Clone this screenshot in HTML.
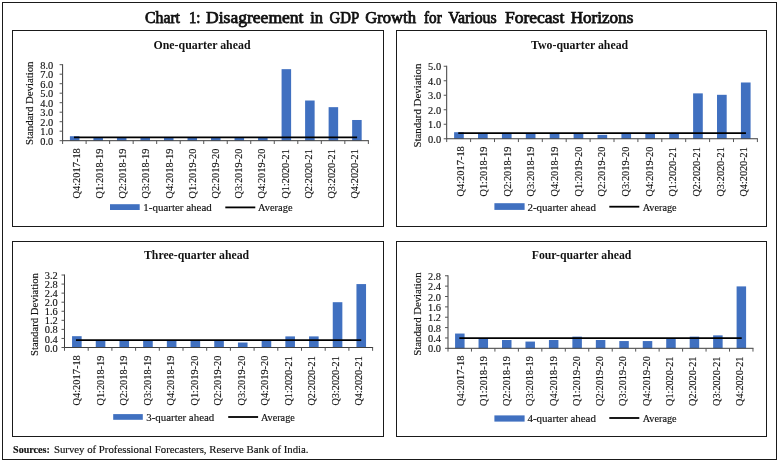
<!DOCTYPE html>
<html lang="en">
<head>
<meta charset="utf-8">
<title>Chart 1: Disagreement in GDP Growth for Various Forecast Horizons</title>
<style>
html,body{margin:0;padding:0;background:#fff;}
svg{display:block;font-family:'Liberation Serif', 'DejaVu Serif', serif;}
.b{fill:none;stroke:#1a1a1a;stroke-width:1;shape-rendering:crispEdges;}
.ax{stroke:#3c3c3c;stroke-width:1;fill:none;}
.tk{stroke:#555;stroke-width:1;fill:none;}
.bar{fill:#4070c0;}
.avg{stroke:#000;stroke-width:1.8;fill:none;}
.t{fill:#111;}
.tl,.xl,.yt,.lg,.src{stroke:#111;stroke-width:0.15px;}
.tl{font-size:11px;text-anchor:end;}
.xl{font-size:11.2px;}
.yt{font-size:10.8px;}
.lg{font-size:11px;}
.sub{font-size:12px;font-weight:bold;}
.ttl{font-size:16px;stroke:#111;stroke-width:0.75px;}
.src{font-size:10px;}
</style>
</head>
<body>
<svg width="779" height="462" viewBox="0 0 779 462">
<rect x="0" y="0" width="779" height="462" fill="#fff"/>
<rect class="b" x="2.5" y="2.5" width="774" height="457"/>
<text class="t ttl" y="23.3"><tspan x="145" textLength="35" lengthAdjust="spacingAndGlyphs">Chart</tspan> <tspan x="188.9" textLength="11.5" lengthAdjust="spacingAndGlyphs">1:</tspan> <tspan x="206" textLength="97.5" lengthAdjust="spacingAndGlyphs">Disagreement</tspan> <tspan x="310.2" textLength="12.7" lengthAdjust="spacingAndGlyphs">in</tspan> <tspan x="329.5" textLength="29.1" lengthAdjust="spacingAndGlyphs">GDP</tspan> <tspan x="365.3" textLength="50.7" lengthAdjust="spacingAndGlyphs">Growth</tspan> <tspan x="424" textLength="17.7" lengthAdjust="spacingAndGlyphs">for</tspan> <tspan x="448.3" textLength="48.4" lengthAdjust="spacingAndGlyphs">Various</tspan> <tspan x="505" textLength="59.3" lengthAdjust="spacingAndGlyphs">Forecast</tspan> <tspan x="570.7" textLength="62.6" lengthAdjust="spacingAndGlyphs">Horizons</tspan></text>
<g>
<rect class="b" x="12.5" y="30.5" width="371" height="196"/>
<text class="t sub" x="153.5" y="48.6" textLength="97" lengthAdjust="spacingAndGlyphs">One-quarter ahead</text>
<rect class="bar" x="69.9" y="136.23" width="9.53" height="4.46"/>
<rect class="bar" x="93.42" y="137.28" width="9.53" height="3.42"/>
<rect class="bar" x="116.94" y="137.38" width="9.53" height="3.32"/>
<rect class="bar" x="140.46" y="137.56" width="9.53" height="3.14"/>
<rect class="bar" x="163.98" y="137.38" width="9.53" height="3.32"/>
<rect class="bar" x="187.5" y="137.56" width="9.53" height="3.14"/>
<rect class="bar" x="211.02" y="137.28" width="9.53" height="3.42"/>
<rect class="bar" x="234.54" y="137.56" width="9.53" height="3.14"/>
<rect class="bar" x="258.06" y="137.56" width="9.53" height="3.14"/>
<rect class="bar" x="281.58" y="69.16" width="9.53" height="71.53"/>
<rect class="bar" x="305.1" y="100.51" width="9.53" height="40.19"/>
<rect class="bar" x="328.62" y="107.16" width="9.53" height="33.53"/>
<rect class="bar" x="352.14" y="119.99" width="9.53" height="20.71"/>
<path class="ax" d="M62.6 64.2V141.2M62.6 140.7H368.86"/>
<path class="tk" d="M59.6 140.7H62.6M59.6 131.2H62.6M59.6 121.7H62.6M59.6 112.2H62.6M59.6 102.7H62.6M59.6 93.2H62.6M59.6 83.7H62.6M59.6 74.2H62.6M59.6 64.7H62.6M62.6 140.7V144M86.12 140.7V144M109.64 140.7V144M133.16 140.7V144M156.68 140.7V144M180.2 140.7V144M203.72 140.7V144M227.24 140.7V144M250.76 140.7V144M274.28 140.7V144M297.8 140.7V144M321.32 140.7V144M344.84 140.7V144M368.36 140.7V144"/>
<path class="avg" d="M73.96 137.28H357.1"/>
<text class="t tl" x="53.2" y="144.8" textLength="13" lengthAdjust="spacingAndGlyphs">0.0</text>
<text class="t tl" x="53.2" y="135.3" textLength="13" lengthAdjust="spacingAndGlyphs">1.0</text>
<text class="t tl" x="53.2" y="125.8" textLength="13" lengthAdjust="spacingAndGlyphs">2.0</text>
<text class="t tl" x="53.2" y="116.3" textLength="13" lengthAdjust="spacingAndGlyphs">3.0</text>
<text class="t tl" x="53.2" y="106.8" textLength="13" lengthAdjust="spacingAndGlyphs">4.0</text>
<text class="t tl" x="53.2" y="97.3" textLength="13" lengthAdjust="spacingAndGlyphs">5.0</text>
<text class="t tl" x="53.2" y="87.8" textLength="13" lengthAdjust="spacingAndGlyphs">6.0</text>
<text class="t tl" x="53.2" y="78.3" textLength="13" lengthAdjust="spacingAndGlyphs">7.0</text>
<text class="t tl" x="53.2" y="68.8" textLength="13" lengthAdjust="spacingAndGlyphs">8.0</text>
<text class="t yt" transform="translate(33.2 145) rotate(-90)" textLength="83.5" lengthAdjust="spacingAndGlyphs">Standard Deviation</text>
<text class="t xl" transform="translate(79.6 198.5) rotate(-90)" textLength="50.3" lengthAdjust="spacingAndGlyphs">Q4:2017-18</text>
<text class="t xl" transform="translate(102.83 198.5) rotate(-90)" textLength="49.8" lengthAdjust="spacingAndGlyphs">Q1:2018-19</text>
<text class="t xl" transform="translate(126.07 198.5) rotate(-90)" textLength="49.8" lengthAdjust="spacingAndGlyphs">Q2:2018-19</text>
<text class="t xl" transform="translate(149.3 198.5) rotate(-90)" textLength="49.8" lengthAdjust="spacingAndGlyphs">Q3:2018-19</text>
<text class="t xl" transform="translate(172.53 198.5) rotate(-90)" textLength="49.8" lengthAdjust="spacingAndGlyphs">Q4:2018-19</text>
<text class="t xl" transform="translate(195.77 198.5) rotate(-90)" textLength="49.8" lengthAdjust="spacingAndGlyphs">Q1:2019-20</text>
<text class="t xl" transform="translate(219 198.5) rotate(-90)" textLength="49.8" lengthAdjust="spacingAndGlyphs">Q2:2019-20</text>
<text class="t xl" transform="translate(242.23 198.5) rotate(-90)" textLength="49.8" lengthAdjust="spacingAndGlyphs">Q3:2019-20</text>
<text class="t xl" transform="translate(265.47 198.5) rotate(-90)" textLength="49.8" lengthAdjust="spacingAndGlyphs">Q4:2019-20</text>
<text class="t xl" transform="translate(288.7 198.5) rotate(-90)" textLength="49.3" lengthAdjust="spacingAndGlyphs">Q1:2020-21</text>
<text class="t xl" transform="translate(311.93 198.5) rotate(-90)" textLength="49.3" lengthAdjust="spacingAndGlyphs">Q2:2020-21</text>
<text class="t xl" transform="translate(335.17 198.5) rotate(-90)" textLength="49.3" lengthAdjust="spacingAndGlyphs">Q3:2020-21</text>
<text class="t xl" transform="translate(358.4 198.5) rotate(-90)" textLength="49.3" lengthAdjust="spacingAndGlyphs">Q4:2020-21</text>
<rect class="bar" x="110" y="204.2" width="29.7" height="5.8"/>
<text class="t lg" x="143.3" y="210.6" textLength="68.5" lengthAdjust="spacingAndGlyphs">1-quarter ahead</text>
<path class="avg" d="M225.3 207.4H255.3"/>
<text class="t lg" x="258" y="210.6" textLength="34.5" lengthAdjust="spacingAndGlyphs">Average</text>
</g>
<g>
<rect class="b" x="396.5" y="30.5" width="370" height="196"/>
<text class="t sub" x="531" y="48.8" textLength="97.2" lengthAdjust="spacingAndGlyphs">Two-quarter ahead</text>
<rect class="bar" x="454.11" y="132.22" width="9.68" height="6.53"/>
<rect class="bar" x="478.01" y="132.95" width="9.68" height="5.8"/>
<rect class="bar" x="501.91" y="132.95" width="9.68" height="5.8"/>
<rect class="bar" x="525.81" y="132.95" width="9.68" height="5.8"/>
<rect class="bar" x="549.71" y="132.95" width="9.68" height="5.8"/>
<rect class="bar" x="573.61" y="133.24" width="9.68" height="5.51"/>
<rect class="bar" x="597.51" y="134.84" width="9.68" height="3.92"/>
<rect class="bar" x="621.41" y="132.95" width="9.68" height="5.8"/>
<rect class="bar" x="645.31" y="132.95" width="9.68" height="5.8"/>
<rect class="bar" x="669.21" y="132.95" width="9.68" height="5.8"/>
<rect class="bar" x="693.11" y="93.37" width="9.68" height="45.38"/>
<rect class="bar" x="717.01" y="94.81" width="9.68" height="43.93"/>
<rect class="bar" x="740.91" y="82.49" width="9.68" height="56.26"/>
<path class="ax" d="M446.7 65.75V139.25M446.7 138.75H757.9"/>
<path class="tk" d="M443.7 138.75H446.7M443.7 124.25H446.7M443.7 109.75H446.7M443.7 95.25H446.7M443.7 80.75H446.7M443.7 66.25H446.7M446.7 138.75V142.05M470.6 138.75V142.05M494.5 138.75V142.05M518.4 138.75V142.05M542.3 138.75V142.05M566.2 138.75V142.05M590.1 138.75V142.05M614 138.75V142.05M637.9 138.75V142.05M661.8 138.75V142.05M685.7 138.75V142.05M709.6 138.75V142.05M733.5 138.75V142.05M757.4 138.75V142.05"/>
<path class="avg" d="M458.25 133.09H745.95"/>
<text class="t tl" x="441.1" y="142.85" textLength="13" lengthAdjust="spacingAndGlyphs">0.0</text>
<text class="t tl" x="441.1" y="128.35" textLength="13" lengthAdjust="spacingAndGlyphs">1.0</text>
<text class="t tl" x="441.1" y="113.85" textLength="13" lengthAdjust="spacingAndGlyphs">2.0</text>
<text class="t tl" x="441.1" y="99.35" textLength="13" lengthAdjust="spacingAndGlyphs">3.0</text>
<text class="t tl" x="441.1" y="84.85" textLength="13" lengthAdjust="spacingAndGlyphs">4.0</text>
<text class="t tl" x="441.1" y="70.35" textLength="13" lengthAdjust="spacingAndGlyphs">5.0</text>
<text class="t yt" transform="translate(421.2 147.6) rotate(-90)" textLength="83.9" lengthAdjust="spacingAndGlyphs">Standard Deviation</text>
<text class="t xl" transform="translate(463.5 196.5) rotate(-90)" textLength="50.3" lengthAdjust="spacingAndGlyphs">Q4:2017-18</text>
<text class="t xl" transform="translate(487.14 196.5) rotate(-90)" textLength="49.8" lengthAdjust="spacingAndGlyphs">Q1:2018-19</text>
<text class="t xl" transform="translate(510.78 196.5) rotate(-90)" textLength="49.8" lengthAdjust="spacingAndGlyphs">Q2:2018-19</text>
<text class="t xl" transform="translate(534.42 196.5) rotate(-90)" textLength="49.8" lengthAdjust="spacingAndGlyphs">Q3:2018-19</text>
<text class="t xl" transform="translate(558.07 196.5) rotate(-90)" textLength="49.8" lengthAdjust="spacingAndGlyphs">Q4:2018-19</text>
<text class="t xl" transform="translate(581.71 196.5) rotate(-90)" textLength="49.8" lengthAdjust="spacingAndGlyphs">Q1:2019-20</text>
<text class="t xl" transform="translate(605.35 196.5) rotate(-90)" textLength="49.8" lengthAdjust="spacingAndGlyphs">Q2:2019-20</text>
<text class="t xl" transform="translate(628.99 196.5) rotate(-90)" textLength="49.8" lengthAdjust="spacingAndGlyphs">Q3:2019-20</text>
<text class="t xl" transform="translate(652.63 196.5) rotate(-90)" textLength="49.8" lengthAdjust="spacingAndGlyphs">Q4:2019-20</text>
<text class="t xl" transform="translate(676.27 196.5) rotate(-90)" textLength="49.3" lengthAdjust="spacingAndGlyphs">Q1:2020-21</text>
<text class="t xl" transform="translate(699.92 196.5) rotate(-90)" textLength="49.3" lengthAdjust="spacingAndGlyphs">Q2:2020-21</text>
<text class="t xl" transform="translate(723.56 196.5) rotate(-90)" textLength="49.3" lengthAdjust="spacingAndGlyphs">Q3:2020-21</text>
<text class="t xl" transform="translate(747.2 196.5) rotate(-90)" textLength="49.3" lengthAdjust="spacingAndGlyphs">Q4:2020-21</text>
<rect class="bar" x="494.4" y="203.2" width="30.2" height="6.7"/>
<text class="t lg" x="527.4" y="210.7" textLength="68.6" lengthAdjust="spacingAndGlyphs">2-quarter ahead</text>
<path class="avg" d="M609.3 206.7H639.3"/>
<text class="t lg" x="642.7" y="210.7" textLength="33.9" lengthAdjust="spacingAndGlyphs">Average</text>
</g>
<g>
<rect class="b" x="12.5" y="241.5" width="371" height="195"/>
<text class="t sub" x="144" y="259.1" textLength="105.1" lengthAdjust="spacingAndGlyphs">Three-quarter ahead</text>
<rect class="bar" x="72.05" y="336.18" width="9.6" height="11.32"/>
<rect class="bar" x="95.75" y="340.03" width="9.6" height="7.47"/>
<rect class="bar" x="119.45" y="340.03" width="9.6" height="7.47"/>
<rect class="bar" x="143.15" y="340.03" width="9.6" height="7.47"/>
<rect class="bar" x="166.85" y="340.03" width="9.6" height="7.47"/>
<rect class="bar" x="190.55" y="340.03" width="9.6" height="7.47"/>
<rect class="bar" x="214.25" y="340.03" width="9.6" height="7.47"/>
<rect class="bar" x="237.95" y="342.52" width="9.6" height="4.98"/>
<rect class="bar" x="261.65" y="340.7" width="9.6" height="6.79"/>
<rect class="bar" x="285.35" y="336.4" width="9.6" height="11.1"/>
<rect class="bar" x="309.05" y="336.4" width="9.6" height="11.1"/>
<rect class="bar" x="332.75" y="302.2" width="9.6" height="45.3"/>
<rect class="bar" x="356.45" y="284.08" width="9.6" height="63.42"/>
<path class="ax" d="M64.5 274.52V348M64.5 347.5H373.1"/>
<path class="tk" d="M61.5 347.5H64.5M61.5 338.44H64.5M61.5 329.38H64.5M61.5 320.32H64.5M61.5 311.26H64.5M61.5 302.2H64.5M61.5 293.14H64.5M61.5 284.08H64.5M61.5 275.02H64.5M64.5 347.5V350.8M88.2 347.5V350.8M111.9 347.5V350.8M135.6 347.5V350.8M159.3 347.5V350.8M183 347.5V350.8M206.7 347.5V350.8M230.4 347.5V350.8M254.1 347.5V350.8M277.8 347.5V350.8M301.5 347.5V350.8M325.2 347.5V350.8M348.9 347.5V350.8M372.6 347.5V350.8"/>
<path class="avg" d="M75.95 340.03H361.25"/>
<text class="t tl" x="57.7" y="351.6" textLength="13" lengthAdjust="spacingAndGlyphs">0.0</text>
<text class="t tl" x="57.7" y="342.54" textLength="13" lengthAdjust="spacingAndGlyphs">0.4</text>
<text class="t tl" x="57.7" y="333.48" textLength="13" lengthAdjust="spacingAndGlyphs">0.8</text>
<text class="t tl" x="57.7" y="324.42" textLength="13" lengthAdjust="spacingAndGlyphs">1.2</text>
<text class="t tl" x="57.7" y="315.36" textLength="13" lengthAdjust="spacingAndGlyphs">1.6</text>
<text class="t tl" x="57.7" y="306.3" textLength="13" lengthAdjust="spacingAndGlyphs">2.0</text>
<text class="t tl" x="57.7" y="297.24" textLength="13" lengthAdjust="spacingAndGlyphs">2.4</text>
<text class="t tl" x="57.7" y="288.18" textLength="13" lengthAdjust="spacingAndGlyphs">2.8</text>
<text class="t tl" x="57.7" y="279.12" textLength="13" lengthAdjust="spacingAndGlyphs">3.2</text>
<text class="t yt" transform="translate(38.2 355.9) rotate(-90)" textLength="82.7" lengthAdjust="spacingAndGlyphs">Standard Deviation</text>
<text class="t xl" transform="translate(80.1 405.5) rotate(-90)" textLength="50.3" lengthAdjust="spacingAndGlyphs">Q4:2017-18</text>
<text class="t xl" transform="translate(103.6 405.5) rotate(-90)" textLength="49.8" lengthAdjust="spacingAndGlyphs">Q1:2018-19</text>
<text class="t xl" transform="translate(127.1 405.5) rotate(-90)" textLength="49.8" lengthAdjust="spacingAndGlyphs">Q2:2018-19</text>
<text class="t xl" transform="translate(150.6 405.5) rotate(-90)" textLength="49.8" lengthAdjust="spacingAndGlyphs">Q3:2018-19</text>
<text class="t xl" transform="translate(174.1 405.5) rotate(-90)" textLength="49.8" lengthAdjust="spacingAndGlyphs">Q4:2018-19</text>
<text class="t xl" transform="translate(197.6 405.5) rotate(-90)" textLength="49.8" lengthAdjust="spacingAndGlyphs">Q1:2019-20</text>
<text class="t xl" transform="translate(221.1 405.5) rotate(-90)" textLength="49.8" lengthAdjust="spacingAndGlyphs">Q2:2019-20</text>
<text class="t xl" transform="translate(244.6 405.5) rotate(-90)" textLength="49.8" lengthAdjust="spacingAndGlyphs">Q3:2019-20</text>
<text class="t xl" transform="translate(268.1 405.5) rotate(-90)" textLength="49.8" lengthAdjust="spacingAndGlyphs">Q4:2019-20</text>
<text class="t xl" transform="translate(291.6 405.5) rotate(-90)" textLength="49.3" lengthAdjust="spacingAndGlyphs">Q1:2020-21</text>
<text class="t xl" transform="translate(315.1 405.5) rotate(-90)" textLength="49.3" lengthAdjust="spacingAndGlyphs">Q2:2020-21</text>
<text class="t xl" transform="translate(338.6 405.5) rotate(-90)" textLength="49.3" lengthAdjust="spacingAndGlyphs">Q3:2020-21</text>
<text class="t xl" transform="translate(362.1 405.5) rotate(-90)" textLength="49.3" lengthAdjust="spacingAndGlyphs">Q4:2020-21</text>
<rect class="bar" x="113.2" y="414.1" width="29.6" height="5.7"/>
<text class="t lg" x="146.2" y="420.7" textLength="68.1" lengthAdjust="spacingAndGlyphs">3-quarter ahead</text>
<path class="avg" d="M228.2 417H258.1"/>
<text class="t lg" x="260.9" y="420.7" textLength="33.9" lengthAdjust="spacingAndGlyphs">Average</text>
</g>
<g>
<rect class="b" x="396.5" y="241.5" width="370" height="195"/>
<text class="t sub" x="531.7" y="259" textLength="99.7" lengthAdjust="spacingAndGlyphs">Four-quarter ahead</text>
<rect class="bar" x="455.08" y="333.54" width="9.5" height="14.76"/>
<rect class="bar" x="478.54" y="338.72" width="9.5" height="9.58"/>
<rect class="bar" x="502" y="340.01" width="9.5" height="8.29"/>
<rect class="bar" x="525.46" y="341.57" width="9.5" height="6.73"/>
<rect class="bar" x="548.92" y="340.01" width="9.5" height="8.29"/>
<rect class="bar" x="572.38" y="336.65" width="9.5" height="11.65"/>
<rect class="bar" x="595.84" y="340.01" width="9.5" height="8.29"/>
<rect class="bar" x="619.3" y="341.05" width="9.5" height="7.25"/>
<rect class="bar" x="642.76" y="341.05" width="9.5" height="7.25"/>
<rect class="bar" x="666.22" y="338.72" width="9.5" height="9.58"/>
<rect class="bar" x="689.68" y="336.65" width="9.5" height="11.65"/>
<rect class="bar" x="713.14" y="335.35" width="9.5" height="12.95"/>
<rect class="bar" x="736.6" y="286.4" width="9.5" height="61.9"/>
<path class="ax" d="M448 275.28V348.8M448 348.3H753.48"/>
<path class="tk" d="M445 348.3H448M445 337.94H448M445 327.58H448M445 317.22H448M445 306.86H448M445 296.5H448M445 286.14H448M445 275.78H448M448 348.3V351.6M471.46 348.3V351.6M494.92 348.3V351.6M518.38 348.3V351.6M541.84 348.3V351.6M565.3 348.3V351.6M588.76 348.3V351.6M612.22 348.3V351.6M635.68 348.3V351.6M659.14 348.3V351.6M682.6 348.3V351.6M706.06 348.3V351.6M729.52 348.3V351.6M752.98 348.3V351.6"/>
<path class="avg" d="M459.33 338.2H741.75"/>
<text class="t tl" x="441" y="352.4" textLength="13" lengthAdjust="spacingAndGlyphs">0.0</text>
<text class="t tl" x="441" y="342.04" textLength="13" lengthAdjust="spacingAndGlyphs">0.4</text>
<text class="t tl" x="441" y="331.68" textLength="13" lengthAdjust="spacingAndGlyphs">0.8</text>
<text class="t tl" x="441" y="321.32" textLength="13" lengthAdjust="spacingAndGlyphs">1.2</text>
<text class="t tl" x="441" y="310.96" textLength="13" lengthAdjust="spacingAndGlyphs">1.6</text>
<text class="t tl" x="441" y="300.6" textLength="13" lengthAdjust="spacingAndGlyphs">2.0</text>
<text class="t tl" x="441" y="290.24" textLength="13" lengthAdjust="spacingAndGlyphs">2.4</text>
<text class="t tl" x="441" y="279.88" textLength="13" lengthAdjust="spacingAndGlyphs">2.8</text>
<text class="t yt" transform="translate(421.2 355.7) rotate(-90)" textLength="83.3" lengthAdjust="spacingAndGlyphs">Standard Deviation</text>
<text class="t xl" transform="translate(463.5 405.9) rotate(-90)" textLength="50.3" lengthAdjust="spacingAndGlyphs">Q4:2017-18</text>
<text class="t xl" transform="translate(486.78 405.9) rotate(-90)" textLength="49.8" lengthAdjust="spacingAndGlyphs">Q1:2018-19</text>
<text class="t xl" transform="translate(510.07 405.9) rotate(-90)" textLength="49.8" lengthAdjust="spacingAndGlyphs">Q2:2018-19</text>
<text class="t xl" transform="translate(533.35 405.9) rotate(-90)" textLength="49.8" lengthAdjust="spacingAndGlyphs">Q3:2018-19</text>
<text class="t xl" transform="translate(556.63 405.9) rotate(-90)" textLength="49.8" lengthAdjust="spacingAndGlyphs">Q4:2018-19</text>
<text class="t xl" transform="translate(579.92 405.9) rotate(-90)" textLength="49.8" lengthAdjust="spacingAndGlyphs">Q1:2019-20</text>
<text class="t xl" transform="translate(603.2 405.9) rotate(-90)" textLength="49.8" lengthAdjust="spacingAndGlyphs">Q2:2019-20</text>
<text class="t xl" transform="translate(626.48 405.9) rotate(-90)" textLength="49.8" lengthAdjust="spacingAndGlyphs">Q3:2019-20</text>
<text class="t xl" transform="translate(649.77 405.9) rotate(-90)" textLength="49.8" lengthAdjust="spacingAndGlyphs">Q4:2019-20</text>
<text class="t xl" transform="translate(673.05 405.9) rotate(-90)" textLength="49.3" lengthAdjust="spacingAndGlyphs">Q1:2020-21</text>
<text class="t xl" transform="translate(696.33 405.9) rotate(-90)" textLength="49.3" lengthAdjust="spacingAndGlyphs">Q2:2020-21</text>
<text class="t xl" transform="translate(719.62 405.9) rotate(-90)" textLength="49.3" lengthAdjust="spacingAndGlyphs">Q3:2020-21</text>
<text class="t xl" transform="translate(742.9 405.9) rotate(-90)" textLength="49.3" lengthAdjust="spacingAndGlyphs">Q4:2020-21</text>
<rect class="bar" x="494.4" y="415.4" width="30.2" height="6.2"/>
<text class="t lg" x="527.4" y="422.4" textLength="68.6" lengthAdjust="spacingAndGlyphs">4-quarter ahead</text>
<path class="avg" d="M609.3 418H639.3"/>
<text class="t lg" x="642.7" y="422.4" textLength="33.9" lengthAdjust="spacingAndGlyphs">Average</text>
</g>
<text class="t src" x="13.1" y="452.9"><tspan font-weight="bold" textLength="36.7" lengthAdjust="spacingAndGlyphs">Sources:</tspan><tspan x="54" textLength="254.5" lengthAdjust="spacingAndGlyphs">Survey of Professional Forecasters, Reserve Bank of India.</tspan></text>
</svg>
</body>
</html>
